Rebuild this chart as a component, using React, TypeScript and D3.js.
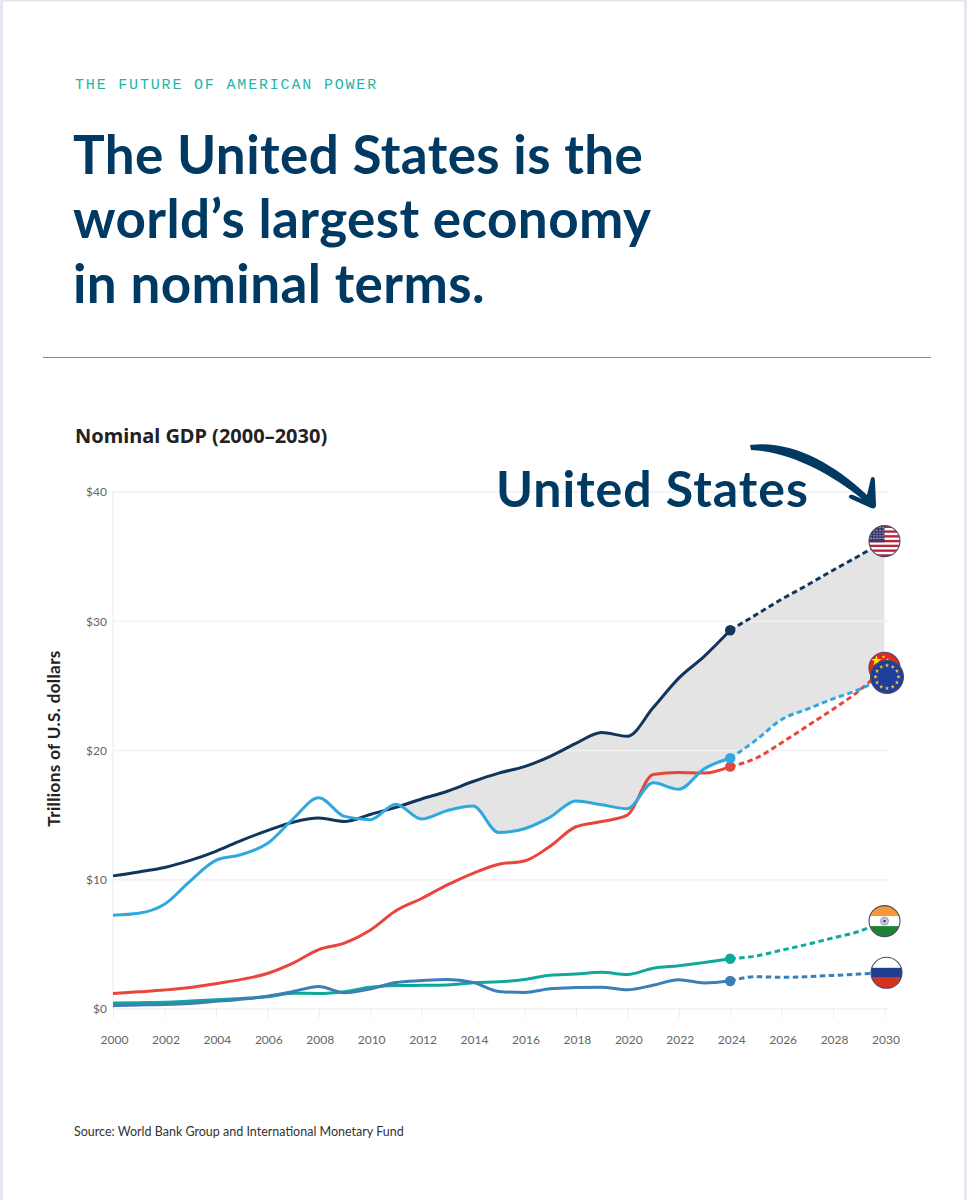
import * as d3 from "d3";
import React, { useEffect, useRef } from "react";

const years = d3.range(2000, 2031);
const tickYears = d3.range(2000, 2031, 2);
const tickDollars = [0, 10, 20, 30, 40];

const usGdp = [10.3, 10.6, 10.95, 11.5, 12.2, 13.05, 13.8, 14.45, 14.77, 14.5, 15.05, 15.6, 16.25, 16.85, 17.6, 18.25, 18.75, 19.55, 20.55, 21.4, 21.1, 23.3, 25.6, 27.3, 29.3, 30.5, 31.7, 32.8, 33.95, 35.05, 36.2];
const euGdp = [7.25, 7.4, 8.1, 9.9, 11.5, 11.95, 12.8, 14.7, 16.35, 14.9, 14.65, 15.85, 14.7, 15.35, 15.7, 13.65, 13.95, 14.85, 16.1, 15.8, 15.5, 17.5, 17.0, 18.6, 19.4, 20.8, 22.4, 23.2, 24.0, 24.7, 25.7];
const chinaGdp = [1.2, 1.33, 1.47, 1.66, 1.96, 2.29, 2.75, 3.55, 4.6, 5.1, 6.1, 7.6, 8.55, 9.6, 10.5, 11.2, 11.45, 12.6, 14.1, 14.5, 15.0, 18.15, 18.3, 18.25, 18.75, 19.4, 20.6, 21.9, 23.2, 24.6, 26.4];
const indiaGdp = [0.47, 0.49, 0.52, 0.61, 0.71, 0.82, 0.94, 1.22, 1.2, 1.34, 1.68, 1.82, 1.83, 1.86, 2.04, 2.1, 2.29, 2.62, 2.7, 2.84, 2.67, 3.15, 3.35, 3.6, 3.89, 4.1, 4.55, 5.0, 5.5, 6.0, 6.8];
const russiaGdp = [0.26, 0.31, 0.35, 0.43, 0.59, 0.76, 0.99, 1.35, 1.75, 1.25, 1.55, 2.05, 2.2, 2.29, 2.06, 1.36, 1.28, 1.57, 1.66, 1.69, 1.49, 1.84, 2.27, 2.02, 2.17, 2.5, 2.45, 2.5, 2.6, 2.7, 2.8];

const seriesList = [
  { name: "us", values: usGdp, color: "#12355b" },
  { name: "china", values: chinaGdp, color: "#e8453c" },
  { name: "eu", values: euGdp, color: "#2fa8e0" },
  { name: "india", values: indiaGdp, color: "#0fa89a" },
  { name: "russia", values: russiaGdp, color: "#3a7fb5" },
];

const lastActual = 2024;
const gapStart = 2011.25; // where the EU line drops under the US for good

const titleLines = ["The United States is the", "world’s largest economy", "in nominal terms."];

const width = 967;
const height = 1200;
const navy = "#003a63";
const labelFont = "Lato, sans-serif";

const x = d3.scaleLinear().domain([2000, 2030]).range([113, 884.5]);
const y = d3.scaleLinear().domain([0, 40]).range([1009, 492]);

const actualLine = d3
  .line<[number, number]>()
  .x((d) => x(d[0]))
  .y((d) => y(d[1]))
  .curve(d3.curveMonotoneX);

const gapArea = d3
  .area<number>()
  .x((_, i) => x(years[i]))
  .y0((_, i) => y(euGdp[i]))
  .y1((d) => y(d))
  .curve(d3.curveMonotoneX);

const star = d3.symbol().type(d3.symbolStar);

function FlagDisc({ id, cx, cy, r, children }: { id: string; cx: number; cy: number; r: number; children: React.ReactNode }) {
  return (
    <g transform={`translate(${cx},${cy})`}>
      <clipPath id={id}>
        <circle r={r} />
      </clipPath>
      <g clipPath={`url(#${id})`}>{children}</g>
      <circle r={r} fill="none" stroke="#4b4a68" strokeWidth={1.1} />
    </g>
  );
}

function UsFlag({ cx, cy }: { cx: number; cy: number }) {
  const r = 15.5;
  const stripe = (2 * r) / 13;
  return (
    <FlagDisc id="flag-us" cx={cx} cy={cy} r={r}>
      <rect x={-r} y={-r} width={2 * r} height={2 * r} fill="#fff" />
      {d3.range(0, 13, 2).map((i) => (
        <rect key={i} x={-r} y={-r + i * stripe} width={2 * r} height={stripe} fill="#b5283f" />
      ))}
      <rect x={-r} y={-r} width={r} height={stripe * 7} fill="#3c3b6e" />
      {d3.range(0, 5).flatMap((row) =>
        d3.range(0, 5).map((col) => (
          <circle key={`${row}-${col}`} cx={-r + 2 + col * 3} cy={-r + 2 + row * 2.7} r={0.55} fill="#fff" />
        )),
      )}
    </FlagDisc>
  );
}

function ChinaFlag({ cx, cy }: { cx: number; cy: number }) {
  const r = 15.5;
  return (
    <FlagDisc id="flag-china" cx={cx} cy={cy} r={r}>
      <rect x={-r} y={-r} width={2 * r} height={2 * r} fill="#de2a22" />
      <path d={star.size(34)()!} transform="translate(-8,-7)" fill="#ffde00" />
      {[[-1, -11], [3, -8], [3, -4]].map(([a, b], i) => (
        <path key={i} d={star.size(5)()!} transform={`translate(${a},${b})`} fill="#ffde00" />
      ))}
    </FlagDisc>
  );
}

function EuFlag({ cx, cy }: { cx: number; cy: number }) {
  const r = 16.5;
  return (
    <FlagDisc id="flag-eu" cx={cx} cy={cy} r={r}>
      <rect x={-r} y={-r} width={2 * r} height={2 * r} fill="#1f3f9c" />
      {d3.range(12).map((i) => {
        const a = (i * Math.PI) / 6;
        return <path key={i} d={star.size(6)()!} transform={`translate(${11.5 * Math.sin(a)},${-11.5 * Math.cos(a)})`} fill="#e8c83a" />;
      })}
    </FlagDisc>
  );
}

function IndiaFlag({ cx, cy }: { cx: number; cy: number }) {
  const r = 15.5;
  return (
    <FlagDisc id="flag-india" cx={cx} cy={cy} r={r}>
      <rect x={-r} y={-r} width={2 * r} height={2 * r} fill="#fff" />
      <rect x={-r} y={-r} width={2 * r} height={10.5} fill="#f4983a" />
      <rect x={-r} y={r - 10.5} width={2 * r} height={10.5} fill="#1f8136" />
      <circle r={4} fill="#c9cbe0" stroke="#8a8cb5" strokeWidth={0.8} />
      <circle r={1.3} fill="#3c3b6e" />
    </FlagDisc>
  );
}

function RussiaFlag({ cx, cy }: { cx: number; cy: number }) {
  const r = 15.5;
  return (
    <FlagDisc id="flag-russia" cx={cx} cy={cy} r={r}>
      <rect x={-r} y={-r} width={2 * r} height={2 * r} fill="#fff" />
      <rect x={-r} y={-r + 10.5} width={2 * r} height={10} fill="#1f3f8f" />
      <rect x={-r} y={-r + 20.5} width={2 * r} height={10.5} fill="#d8321f" />
    </FlagDisc>
  );
}

export default function App() {
  const xAxisRef = useRef<SVGGElement | null>(null);
  const yAxisRef = useRef<SVGGElement | null>(null);

  useEffect(() => {
    const xAxis = d3
      .select(xAxisRef.current)
      .call(d3.axisBottom(x).tickValues(tickYears).tickFormat(d3.format("d") as any).tickSize(9).tickPadding(17) as any);
    xAxis.select(".domain").remove();
    xAxis.selectAll("line").attr("stroke", "#ececec");
    xAxis
      .selectAll("text")
      .attr("fill", "#666")
      .attr("dx", 1)
      .style("font", `12px ${labelFont}`);

    const yAxis = d3
      .select(yAxisRef.current)
      .call(d3.axisLeft(y).tickValues(tickDollars).tickFormat((d) => `$${d}`).tickSize(0).tickPadding(6) as any);
    yAxis.select(".domain").remove();
    yAxis
      .selectAll("text")
      .attr("fill", "#666")
      .style("font", `12px ${labelFont}`);
  }, []);

  const actualIdx = years.indexOf(lastActual);

  return (
    <svg width={width} height={height} style={{ position: "absolute", left: 0, top: 0, background: "#fff" }}>
      {/* page edge of the screenshot */}
      <rect x={0} y={0} width={3} height={height} fill="#e6e6f0" />
      <rect x={964} y={0} width={3} height={height} fill="#e6e6f0" />
      <rect x={0} y={0} width={width} height={1.5} fill="#e6e6f0" />

      <text x={75} y={89} fill="#1fb5a6" style={{ font: "15px 'Liberation Mono', monospace", letterSpacing: "1.82px" }}>
        THE FUTURE OF AMERICAN POWER
      </text>
      {titleLines.map((t, i) => (
        <text key={t} x={73} y={174 + i * 64.3} fill={navy} style={{ font: "700 53px Lato, sans-serif", letterSpacing: "0.4px" }}>
          {t}
        </text>
      ))}
      <line x1={43} x2={931} y1={357.5} y2={357.5} stroke="#8a8a8a" strokeWidth={1} />

      <text x={75} y={443} fill="#222" style={{ font: "700 20px 'Noto Sans', sans-serif" }}>
        Nominal GDP (2000–2030)
      </text>

      <clipPath id="gap-clip">
        <rect x={x(gapStart)} y={y(40)} width={x(2030) - x(gapStart)} height={y(0) - y(40)} />
      </clipPath>
      <path d={gapArea(usGdp)!} fill="#e4e4e4" clipPath="url(#gap-clip)" />

      {/* grid sits over the shaded gap */}
      {tickDollars.map((d) => (
        <line key={d} x1={x(2000)} x2={888} y1={y(d)} y2={y(d)} stroke="#f1f1f1" strokeWidth={1.5} />
      ))}
      <line x1={x(2000)} x2={x(2000)} y1={y(40)} y2={y(0)} stroke="#f1f1f1" strokeWidth={1.5} />
      <g ref={xAxisRef} transform={`translate(0,${y(0)})`} />
      <g ref={yAxisRef} transform={`translate(${x(2000)},0)`} />

      {seriesList.map((s) => {
        const actual = s.values.slice(0, actualIdx + 1).map((v, i) => [years[i], v] as [number, number]);
        const projected = s.values.slice(actualIdx).map((v, i) => [years[actualIdx + i], v] as [number, number]);
        return (
          <g key={s.name} fill="none" stroke={s.color} strokeWidth={3}>
            <path d={actualLine(actual)!} />
            <path d={actualLine(projected)!} strokeDasharray="5.5 3.5" />
            <circle cx={x(lastActual)} cy={y(s.values[actualIdx])} r={5.2} fill={s.color} stroke="none" />
          </g>
        );
      })}

      <text x={496} y={507} fill={navy} style={{ font: "700 50px Lato, sans-serif", letterSpacing: "1px" }}>
        United States
      </text>
      <path
        d="M750,445 C790,440 832,462 867,495 L871,478 C873,476 875,477 875,481 L876,505 C876,508 874,509 871,508 L851,499 C847,497 849,494 853,495 L862,499 C830,473 790,452 751,450 Z"
        fill={navy}
      />

      <UsFlag cx={x(2030)} cy={y(usGdp[30])} />
      <ChinaFlag cx={x(2030)} cy={y(chinaGdp[30])} />
      <EuFlag cx={x(2030) + 2.5} cy={y(euGdp[30])} />
      <IndiaFlag cx={x(2030)} cy={y(indiaGdp[30])} />
      <RussiaFlag cx={x(2030) + 2} cy={y(russiaGdp[30])} />

      <text
        transform="translate(59.5,738.5) rotate(-90)"
        textAnchor="middle"
        fill="#222"
        style={{ font: "700 17px Lato, sans-serif", letterSpacing: "0.4px" }}
      >
        Trillions of U.S. dollars
      </text>

      <text x={74} y={1136} fill="#333" style={{ font: "12.5px Lato, sans-serif" }}>
        Source: World Bank Group and International Monetary Fund
      </text>
    </svg>
  );
}
